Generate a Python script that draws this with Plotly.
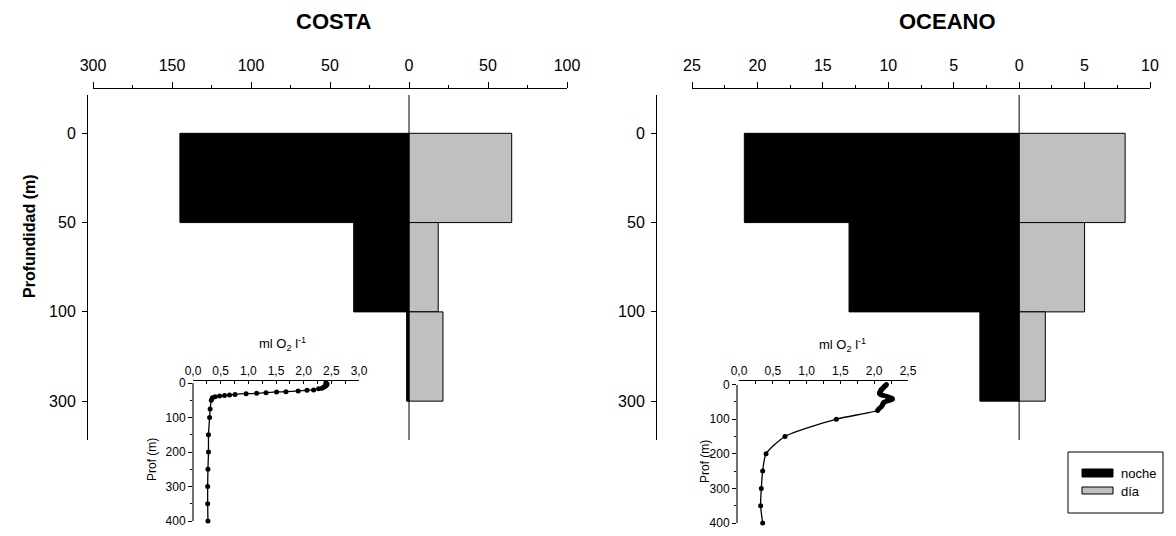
import plotly.graph_objects as go

# page body has an 8px margin: figure is drawn at (8,8) on screen
OFF = 8
W, H = 1160, 524
def px(x): return (x - OFF) / W
def py(y): return 1 - (y - OFF) / H

FONT = "Liberation Sans, Arial, sans-serif"

# ---------------- data ----------------
depth_bins = ["0", "50", "100", "300"]          # bin boundaries (m)
costa_noche = [145, 35, 1.5]                    # 0-50, 50-100, 100-300
costa_dia = [65, 18.5, 21.5]
oceano_noche = [21, 13, 3]
oceano_dia = [8.1, 5, 2]

costa_ticks = [-200, -150, -100, -50, 0, 50, 100]
costa_ticktext = ["300", "150", "100", "50", "0", "50", "100"]
oceano_ticks = [-25, -20, -15, -10, -5, 0, 5, 10]
oceano_ticktext = ["25", "20", "15", "10", "5", "0", "5", "10"]

# oxygen profiles (inset)
costa_o2_depth = [0, 2, 4, 6, 8, 10, 12, 15, 17, 20, 21, 23, 25, 26, 28, 30, 31, 33,
                  35, 36, 38, 40, 43, 50, 75, 100, 150, 200, 250, 300, 350, 400]
costa_o2 = [2.40, 2.42, 2.42, 2.41, 2.40, 2.38, 2.36, 2.33, 2.27, 2.18, 2.06, 1.90,
            1.68, 1.51, 1.32, 1.15, 0.96, 0.76, 0.66, 0.57, 0.48, 0.40, 0.35, 0.33,
            0.31, 0.30, 0.28, 0.28, 0.27, 0.265, 0.265, 0.27]
oceano_o2_depth = [0, 2, 4, 6, 8, 10, 12, 14, 16, 18, 20, 22, 24, 26, 28, 30, 32, 34,
                   36, 38, 40, 42, 44, 46, 48, 50, 52, 55, 60, 65, 70, 75, 100, 150,
                   200, 250, 300, 350, 400]
oceano_o2 = [2.18, 2.17, 2.16, 2.15, 2.14, 2.13, 2.12, 2.11, 2.10, 2.10, 2.09, 2.09,
             2.08, 2.08, 2.09, 2.11, 2.14, 2.18, 2.21, 2.24, 2.26, 2.27, 2.25, 2.22,
             2.19, 2.16, 2.14, 2.13, 2.12, 2.10, 2.07, 2.05, 1.44, 0.68, 0.40, 0.35,
             0.33, 0.32, 0.35]

o2_costa_ticks = [0, 0.5, 1.0, 1.5, 2.0, 2.5, 3.0]
o2_oceano_ticks = [0, 0.5, 1.0, 1.5, 2.0, 2.5]
prof_ticks = [0, 100, 200, 300, 400]

# ---------------- figure ----------------
centers = [i + 0.5 for i in range(len(costa_noche))]
fig = go.Figure()

def bars(noche, dia, xa, ya):
    fig.add_trace(go.Bar(orientation="h", y=centers, x=[-v for v in noche], width=1,
                         name="noche", marker=dict(color="black", line=dict(color="black", width=1)),
                         xaxis=xa, yaxis=ya, showlegend=False))
    fig.add_trace(go.Bar(orientation="h", y=centers, x=dia, width=1, name="día",
                         marker=dict(color="#c0c0c0", line=dict(color="black", width=1)),
                         xaxis=xa, yaxis=ya, showlegend=False))

bars(costa_noche, costa_dia, "x", "y")
bars(oceano_noche, oceano_dia, "x2", "y2")

for d, o, xa, ya in [(costa_o2_depth, costa_o2, "x3", "y3"),
                     (oceano_o2_depth, oceano_o2, "x4", "y4")]:
    fig.add_trace(go.Scatter(x=o, y=d, mode="lines+markers", xaxis=xa, yaxis=ya,
                             line=dict(color="black", width=1.3, shape="spline", smoothing=0.6),
                             marker=dict(color="black", size=5), cliponaxis=False,
                             showlegend=False))

ymain_range = [3.435, -0.429]
tickfont = dict(family=FONT, size=16, color="black")
small = dict(family=FONT, size=12, color="black")

def main_x(domain, rng, tv, tt, minor, pos):
    return dict(domain=domain, range=rng, side="top", anchor="free", position=pos,
                showline=True, linecolor="black", linewidth=1, ticks="outside", ticklen=6,
                tickcolor="black", tickvals=tv, ticktext=tt, tickfont=tickfont,
                minor=dict(tickvals=minor, ticks="outside", ticklen=3, tickcolor="black"),
                ticklabelstandoff=5, automargin=False,
                showgrid=False, zeroline=False, fixedrange=True)

def main_y(pos):
    return dict(domain=[py(440), py(95)], range=ymain_range, anchor="free", position=pos,
                showline=True, linecolor="black", linewidth=1, ticks="outside", ticklen=5,
                tickcolor="black", tickvals=list(range(len(depth_bins))), ticktext=depth_bins,
                tickfont=tickfont, ticklabelstandoff=3, automargin=False,
                showgrid=False, zeroline=False)

def inset_x(domain, rng, tv, pos):
    minor = [v + 0.25 for v in tv[:-1]]
    return dict(domain=domain, range=rng, side="top", anchor="free", position=pos,
                showline=True, linecolor="black", linewidth=1, ticks="inside", ticklen=3,
                tickcolor="black", tickvals=tv, ticktext=[f"{v:.1f}".replace(".", ",") for v in tv],
                tickfont=small, minor=dict(tickvals=minor, ticks="inside", ticklen=3, tickcolor="black"),
                automargin=False, showgrid=False, zeroline=False)

def inset_y(domain, pos):
    return dict(domain=domain, range=[400, 0], anchor="free", position=pos,
                showline=True, linecolor="#707070", linewidth=2, ticks="outside", ticklen=4,
                tickcolor="black", tickvals=prof_ticks, ticktext=[str(v) for v in prof_ticks],
                tickfont=small, minor=dict(tickvals=[50, 150, 250, 350], ticks="outside",
                                           ticklen=2, tickcolor="black"),
                ticklabeloverflow="allow", automargin=False, showgrid=False, zeroline=False)

fig.update_layout(
    width=W, height=H, margin=dict(l=0, r=0, t=0, b=0, pad=0), autosize=False,
    paper_bgcolor="white", plot_bgcolor="rgba(0,0,0,0)",
    barmode="overlay", font=dict(family=FONT, color="black"),
    xaxis=main_x([px(93), px(567)], [-200, 100], costa_ticks, costa_ticktext,
                 [-175, -125, -75, -25, 25, 75], py(88)),
    yaxis=main_y(px(87)),
    xaxis2=main_x([px(692), px(1150)], [-25, 10], oceano_ticks, oceano_ticktext,
                  [v + 2.5 for v in oceano_ticks[:-1]], py(88)),
    yaxis2=main_y(px(656)),
    xaxis3=inset_x([px(193), px(359)], [0, 3.0], o2_costa_ticks, py(380)),
    yaxis3=inset_y([py(521), py(383)], px(193)),
    xaxis4=inset_x([px(739), px(908)], [0, 2.5], o2_oceano_ticks, py(380)),
    yaxis4=inset_y([py(523), py(384.5)], px(737)),
)

# zero lines
for xa, ya in [("x", "y"), ("x2", "y2")]:
    fig.add_shape(type="line", xref=xa, yref=ya, x0=0, x1=0, y0=ymain_range[1], y1=3.47,
                  line=dict(color="black", width=1))

ann = [
    dict(text="<b>COSTA</b>", x=px(333), y=py(21), font=dict(family=FONT, size=22)),
    dict(text="<b>OCEANO</b>", x=px(947), y=py(21), font=dict(family=FONT, size=22)),
    dict(text="<b>Profundidad (m)</b>", x=px(30), y=py(236), textangle=-90,
         font=dict(family=FONT, size=16)),
    dict(text="ml O<sub>2</sub> l<sup>-1</sup>", x=px(282), y=py(344), font=dict(family=FONT, size=13)),
    dict(text="ml O<sub>2</sub> l<sup>-1</sup>", x=px(842), y=py(345), font=dict(family=FONT, size=13)),
    dict(text="Prof (m)", x=px(152), y=py(460), textangle=-90, font=small),
    dict(text="Prof (m)", x=px(705), y=py(462), textangle=-90, font=small),
]
for a in ann:
    fig.add_annotation(xref="paper", yref="paper", showarrow=False,
                       xanchor="center", yanchor="middle", **a)

# legend (drawn)
fig.add_shape(type="rect", xref="paper", yref="paper", x0=px(1068), x1=px(1163),
              y0=py(513), y1=py(452), line=dict(color="black", width=1), fillcolor="white")
fig.add_shape(type="rect", xref="paper", yref="paper", x0=px(1082), x1=px(1113),
              y0=py(477), y1=py(469), line=dict(color="black", width=1), fillcolor="black")
fig.add_shape(type="rect", xref="paper", yref="paper", x0=px(1082), x1=px(1113),
              y0=py(494), y1=py(487), line=dict(color="black", width=1), fillcolor="#c0c0c0")
for t, yy in [("noche", 473), ("día", 491)]:
    fig.add_annotation(xref="paper", yref="paper", x=px(1119), y=py(yy), xanchor="left",
                       yanchor="middle", text=t, showarrow=False, font=dict(family=FONT, size=13))

fig.write_html("out.html")
